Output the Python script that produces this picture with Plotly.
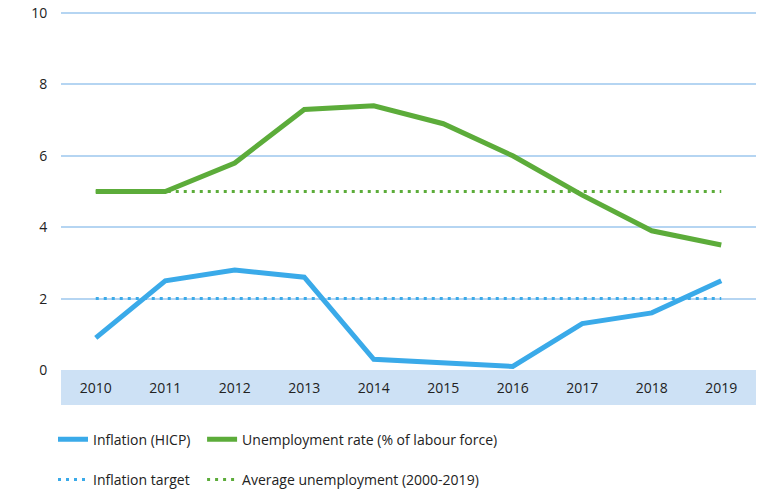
import plotly.graph_objects as go

years = ["2010", "2011", "2012", "2013", "2014", "2015", "2016", "2017", "2018", "2019"]
inflation = [0.9, 2.5, 2.8, 2.6, 0.3, 0.2, 0.1, 1.3, 1.6, 2.5]
unemployment = [5.0, 5.0, 5.8, 7.3, 7.4, 6.9, 6.0, 4.9, 3.9, 3.5]
inflation_target = [2.0] * len(years)
avg_unemployment = [5.0] * len(years)
y_ticks = [0, 2, 4, 6, 8, 10]

blue = "#3aaae9"
green = "#5cac3a"
font = "Open Sans"
txt = "#222222"

fig = go.Figure()
fig.add_trace(go.Scatter(x=years, y=inflation_target, name="Inflation target", mode="lines",
                         line=dict(color=blue, width=3, dash="3px,5px"), legend="legend", legendgroup="b",
                         legendrank=2))
fig.add_trace(go.Scatter(x=years, y=avg_unemployment, name="Average unemployment (2000-2019)", mode="lines",
                         line=dict(color=green, width=3, dash="3px,5px"), legend="legend2", legendgroup="d",
                         legendrank=2))
fig.add_trace(go.Scatter(x=years, y=inflation, name="Inflation (HICP)", mode="lines",
                         line=dict(color=blue, width=5), legend="legend", legendgroup="a", legendrank=1))
fig.add_trace(go.Scatter(x=years, y=unemployment, name="Unemployment rate (% of labour force)", mode="lines",
                         line=dict(color=green, width=5), legend="legend2", legendgroup="c", legendrank=1))

plot_h = 358
fig.add_shape(type="rect", xref="paper", yref="paper", x0=0, x1=1, y0=-35/plot_h, y1=0,
              fillcolor="#cde1f5", line=dict(width=0), layer="below")

legend_common = dict(orientation="v", xanchor="left", yanchor="top", y=-0.15,
                     font=dict(family=font, size=14, color=txt),
                     itemwidth=30, tracegroupgap=19,
                     bgcolor="rgba(0,0,0,0)", traceorder="grouped")

fig.update_layout(
    width=771, height=491,
    margin=dict(l=61, r=15, t=12, b=121, autoexpand=False),
    paper_bgcolor="white", plot_bgcolor="white",
    font=dict(family=font, size=14, color=txt),
    showlegend=True,
    legend=dict(legend_common, x=-0.0115),
    legend2=dict(legend_common, x=0.203),
    xaxis=dict(type="category", range=[-0.5, 9.5], showgrid=False, zeroline=False, showline=False,
               ticks="outside", ticklen=5, tickcolor="rgba(0,0,0,0)", automargin=False,
               tickfont=dict(family=font, size=14, color=txt)),
    yaxis=dict(range=[0, 10.03], tickvals=y_ticks, showgrid=True, gridcolor="#b5d5f2",
               gridwidth=1.5, zeroline=False, showline=False, ticks="outside", ticklen=10,
               tickcolor="rgba(0,0,0,0)", automargin=False,
               tickfont=dict(family=font, size=14, color=txt)),
)

fig.write_html("out.html", config={"displayModeBar": False},
               post_script="document.body.style.margin='0';")
